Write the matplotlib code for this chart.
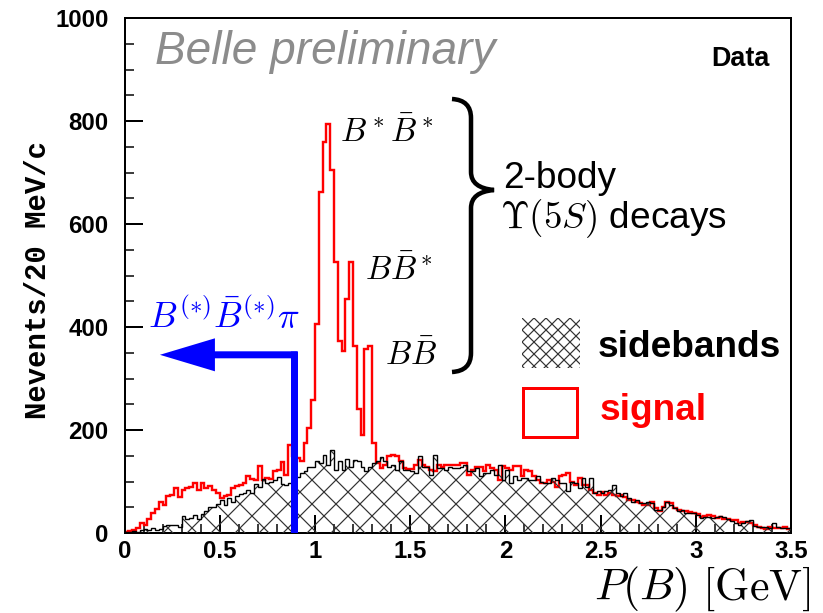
import matplotlib

matplotlib.use("Agg")

import matplotlib.pyplot as plt
import numpy as np
from matplotlib.patches import PathPatch, Rectangle
from matplotlib.path import Path
from matplotlib.ticker import FuncFormatter, MultipleLocator
from matplotlib.transforms import Affine2D

# P(B) spectrum, 20 MeV bins from 0 to 3.5 GeV
BIN_WIDTH = 0.02
SIGNAL = [
    2, 3, 6, 10, 19, 16, 27, 38, 46, 60, 55, 72, 74, 88, 70, 84, 87, 90, 97, 84,
    97, 87, 92, 84, 78, 68, 72, 74, 87, 92, 94, 97, 110, 104, 103, 131, 103, 107, 105, 120,
    123, 137, 113, 171, 150, 145, 139, 175, 204, 259, 405, 663, 760, 795, 704, 526, 373, 353, 454, 526,
    363, 240, 191, 357, 363, 175, 135, 126, 132, 150, 152, 149, 139, 126, 124, 125, 133, 142, 133, 129,
    122, 120, 133, 129, 133, 133, 133, 133, 135, 136, 113, 123, 129, 129, 120, 133, 126, 122, 103, 130,
    126, 123, 130, 130, 110, 123, 120, 110, 102, 97, 97, 103, 100, 90, 110, 112, 117, 100, 94, 107,
    94, 94, 84, 77, 74, 80, 74, 77, 74, 71, 74, 70, 64, 64, 61, 58, 55, 55, 61, 48,
    42, 50, 61, 58, 48, 45, 42, 42, 40, 39, 36, 31, 33, 35, 33, 29, 31, 28, 27, 25,
    25, 19, 22, 21, 19, 16, 12, 10, 7, 12, 10, 9, 9, 12, 7,
]
SIDEBANDS = [
    1, 2, 3, 2, 5, 8, 6, 9, 5, 8, 14, 15, 15, 15, 12, 33, 28, 30, 35, 28,
    36, 42, 50, 50, 56, 64, 55, 68, 60, 72, 76, 78, 84, 78, 95, 90, 105, 98, 100, 103,
    108, 96, 94, 97, 105, 108, 116, 120, 128, 128, 139, 136, 152, 132, 162, 123, 139, 123, 143, 129,
    142, 139, 129, 120, 128, 136, 140, 147, 139, 129, 133, 123, 139, 123, 123, 121, 116, 149, 129, 129,
    113, 152, 126, 126, 123, 129, 126, 126, 129, 133, 120, 120, 126, 110, 116, 116, 123, 113, 133, 103,
    123, 97, 110, 103, 106, 106, 103, 103, 110, 100, 97, 97, 106, 103, 97, 97, 81, 100, 97, 87,
    106, 90, 106, 77, 81, 77, 81, 84, 94, 77, 71, 77, 67, 61, 64, 58, 58, 61, 58, 45,
    45, 51, 61, 55, 48, 42, 45, 38, 38, 38, 34, 29, 31, 32, 29, 31, 33, 31, 27, 24,
    19, 16, 19, 24, 25, 14, 11, 12, 12, 9, 19, 11, 9, 10, 10,
]

# B(*)B(*)pi selection cut drawn as a blue arrow
CUT_GEV = 0.89
ARROW_LEVEL = 346
ARROW_TIP_GEV = 0.186

W, H = 823, 613
DPI = 72

plt.rcParams["mathtext.fontset"] = "cm"
plt.rcParams["font.family"] = ["Liberation Sans", "DejaVu Sans"]
plt.rcParams["hatch.linewidth"] = 1.2
plt.rcParams["hatch.color"] = "#333333"


def fx(px):
    return px / W


def fy(py):
    return 1 - py / H


fig = plt.figure(figsize=(W / DPI, H / DPI), dpi=DPI)
ax = fig.add_axes([fx(124.5), fy(533), (791 - 124.5) / W, (533 - 18) / H])

edges = np.arange(len(SIGNAL) + 1) * BIN_WIDTH

ax.stairs(SIGNAL, edges, color="#ff0000", linewidth=2.4, zorder=2)
ax.stairs(
    SIDEBANDS,
    edges,
    fill=True,
    facecolor="none",
    edgecolor="#333333",
    hatch="x",
    linewidth=0,
    zorder=3,
)
ax.stairs(SIDEBANDS, edges, color="black", linewidth=1.4, zorder=4)

# cut line + arrow
ax.plot(
    [CUT_GEV, CUT_GEV],
    [0, ARROW_LEVEL + 7],
    color="blue",
    linewidth=7,
    solid_capstyle="butt",
    zorder=5,
)
ax.annotate(
    "",
    xy=(ARROW_TIP_GEV, ARROW_LEVEL),
    xytext=(CUT_GEV + 0.018, ARROW_LEVEL),
    arrowprops={
        "facecolor": "blue",
        "edgecolor": "none",
        "width": 7,
        "headwidth": 33,
        "headlength": 55,
        "shrink": 0,
    },
    zorder=5,
)

ax.set_xlim(0, 3.5)
ax.set_ylim(0, 1000)
ax.xaxis.set_major_locator(MultipleLocator(0.5))
ax.xaxis.set_minor_locator(MultipleLocator(0.1))
ax.yaxis.set_major_locator(MultipleLocator(200))
ax.yaxis.set_minor_locator(MultipleLocator(50))
ax.xaxis.set_major_formatter(FuncFormatter(lambda v, _: f"{v:g}"))
ax.yaxis.set_major_formatter(FuncFormatter(lambda v, _: f"{v:.0f}"))
ax.tick_params(which="both", direction="in", top=False, right=False)
ax.tick_params(which="major", length=18, width=2, labelsize=24)
ax.tick_params(axis="y", which="major", pad=16)
ax.tick_params(axis="x", which="major", pad=7)
ax.tick_params(which="minor", length=9, width=1.5)
for label in ax.get_xticklabels() + ax.get_yticklabels():
    label.set_fontweight("bold")
for spine in ax.spines.values():
    spine.set_linewidth(2)

# texts
fig.text(fx(155), fy(64), "Belle preliminary", fontsize=46, style="italic", color="#8c8c8c")
fig.text(fx(770), fy(66), "Data", fontsize=27, weight="bold", ha="right")
fig.text(fx(340), fy(142), r"$B^*\bar{B}^*$", fontsize=33)
fig.text(fx(365), fy(280), r"$B\bar{B}^*$", fontsize=33)
fig.text(fx(385), fy(365), r"$B\bar{B}$", fontsize=33)
fig.text(fx(148), fy(328), r"$B^{(*)}\bar{B}^{(*)}\pi$", fontsize=36, color="blue")
fig.text(fx(503), fy(188), "2-body", fontsize=37)
fig.text(fx(500), fy(228), r"$\Upsilon(5S)$ decays", fontsize=37)
fig.text(fx(598), fy(357), "sidebands", fontsize=37, weight="bold")
fig.text(fx(600), fy(420), "signal", fontsize=37, weight="bold", color="#ff0000")
fig.text(
    fx(38),
    fy(280),
    "Nevents/20 MeV/c",
    rotation=90,
    fontsize=29,
    family="Liberation Mono",
    weight="bold",
    ha="center",
    va="center",
)
fig.text(fx(811), fy(600), r"$P(B)\ [\mathrm{GeV}]$", fontsize=44, ha="right")

# curly brace and legend boxes, drawn in top-left pixel space
px_to_fig = Affine2D().scale(1 / W, -1 / H).translate(0, 1) + fig.transFigure
brace = Path(
    [
        (452, 99), (471, 100), (471, 118),
        (471, 172),
        (471, 188), (494, 190),
        (471, 192), (471, 208),
        (471, 353),
        (471, 371), (452, 372),
    ],
    [
        Path.MOVETO, Path.CURVE3, Path.CURVE3,
        Path.LINETO,
        Path.CURVE3, Path.CURVE3,
        Path.CURVE3, Path.CURVE3,
        Path.LINETO,
        Path.CURVE3, Path.CURVE3,
    ],
)
fig.patches.append(
    PathPatch(brace, transform=px_to_fig, facecolor="none", edgecolor="black", linewidth=4.5)
)
fig.patches.append(
    Rectangle(
        (522, 318), 58, 50,
        transform=px_to_fig,
        facecolor="none",
        edgecolor="#333333",
        hatch="xx",
        linewidth=0,
    )
)
fig.patches.append(
    Rectangle(
        (523, 388), 54, 49,
        transform=px_to_fig,
        facecolor="none",
        edgecolor="#ff0000",
        linewidth=3,
    )
)

fig.savefig("out.png", dpi=DPI)
plt.close(fig)
